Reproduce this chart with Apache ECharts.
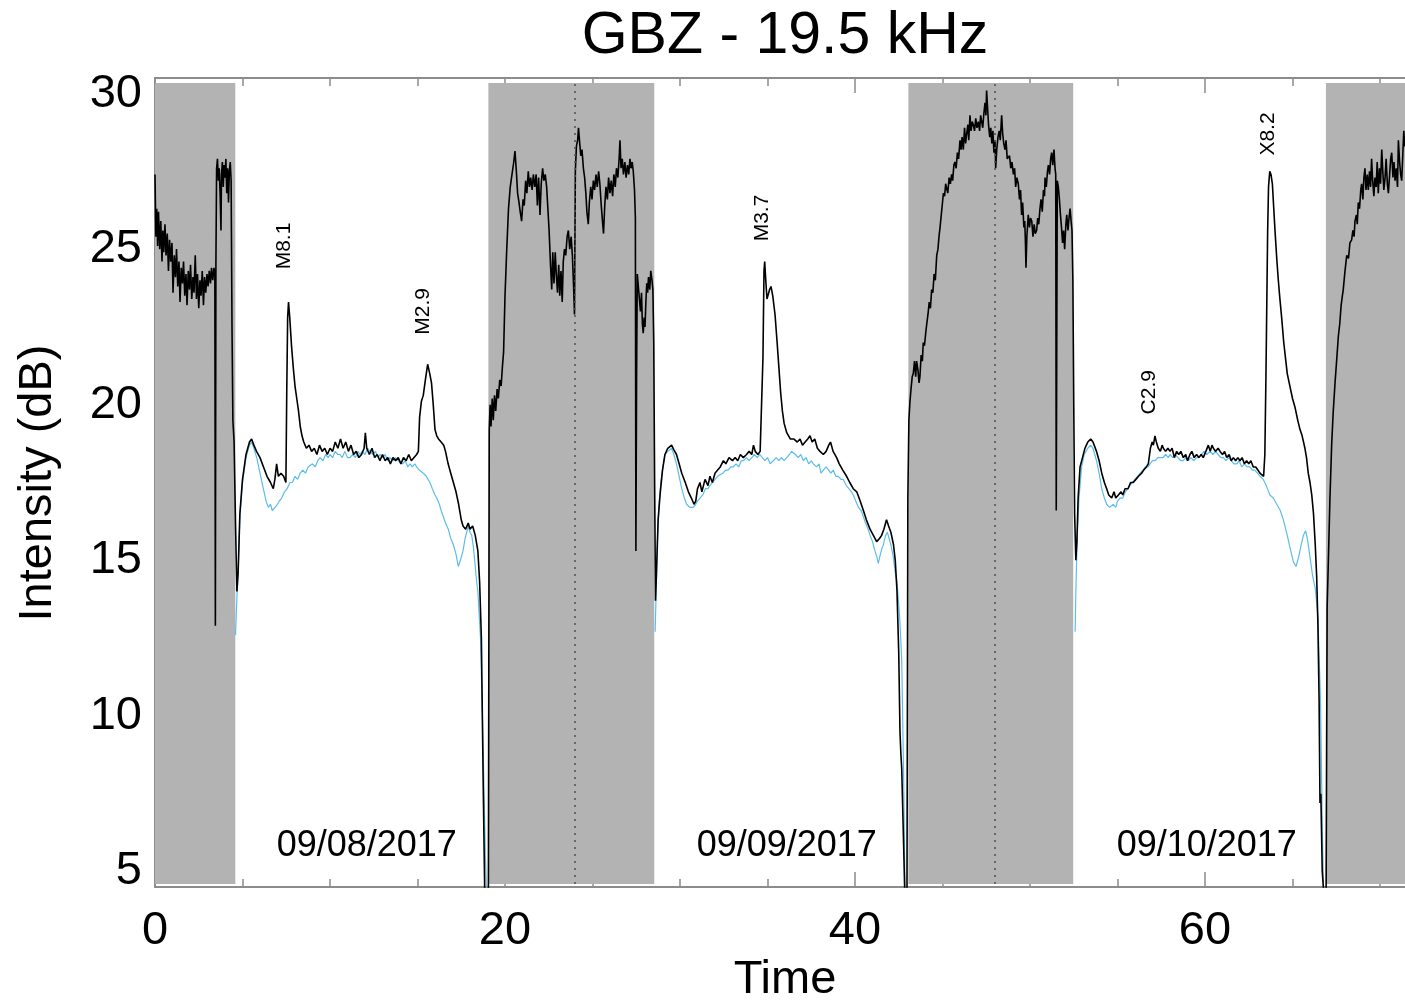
<!DOCTYPE html>
<html>
<head>
<meta charset="utf-8">
<title>GBZ - 19.5 kHz</title>
<script src="https://cdn.jsdelivr.net/npm/echarts@6/dist/echarts.min.js"></script>
<style>
  html, body { margin: 0; padding: 0; background: #ffffff; }
  #chart { width: 1405px; height: 1006px; }
</style>
</head>
<body>
<div id="chart"></div>
<script>
// ---- data (time in hours from 09/08/2017 00:00 UT, intensity in dB) ----

// night-time intervals along the path (shaded)
const nightStart = [0, 19.05, 43.05, 66.91];
const nightEnd   = [4.59, 28.53, 52.47, 76];

// midnight markers
const midnights = [24, 48];

// y-axis labels
const yTickValues = [5, 10, 15, 20, 25, 30];

// day labels
const dayNames = ['09/08/2017', '09/09/2017', '09/10/2017'];
const dayLabelTime = [12.1, 36.1, 60.1];
const dayLabelLevel = 5.8;

// flare classes and where their labels sit
const flareNames = ['M8.1', 'M2.9', 'M3.7', 'C2.9', 'X8.2'];
const flareTime  = [7.4, 15.3, 34.7, 56.8, 63.6];
const flareLevel = [25.1, 23.0, 26.0, 20.4, 28.7];

// measured signal amplitude (black)
const measured = [
  [0,27.4],[0.05,25.4],[0.1,26.3],[0.15,25.1],[0.2,26.2],[0.27,25.0],[0.33,25.9],[0.4,24.6],[0.45,25.6],[0.5,24.9],
  [0.57,25.8],[0.63,24.8],[0.7,25.5],[0.77,24.3],[0.83,25.3],[0.9,24.6],[0.97,25.2],[1.03,23.6],[1.1,24.8],[1.17,24.1],
  [1.23,25.0],[1.3,23.8],[1.37,24.6],[1.43,23.3],[1.5,24.4],[1.57,23.9],[1.63,24.6],[1.7,23.5],[1.77,24.2],[1.83,23.2],
  [1.9,24.3],[1.97,23.7],[2.03,24.5],[2.1,23.4],[2.17,24.1],[2.23,23.6],[2.3,24.8],[2.37,23.4],[2.43,24.2],[2.5,23.1],
  [2.57,24.0],[2.63,23.5],[2.7,24.3],[2.77,23.2],[2.83,24.1],[2.9,23.6],[2.97,24.2],[3.03,23.8],[3.1,24.3],[3.17,23.9],
  [3.23,24.4],[3.3,24.0],[3.37,24.4],[3.42,24.2],[3.45,12.9],[3.48,24.5],[3.52,27.6],[3.57,27.9],[3.62,27.2],[3.67,27.6],
  [3.72,26.8],[3.77,25.6],[3.8,27.4],[3.85,27.8],[3.9,27.0],[3.95,27.7],[4.0,27.3],[4.05,27.9],[4.1,26.8],[4.15,27.6],
  [4.2,26.5],[4.25,27.5],[4.3,27.8],[4.35,27.2],[4.4,22.5],[4.45,19.5],[4.52,18.8],[4.6,16.2],[4.68,14.0],[4.75,14.6],
  [4.85,16.5],[5.0,17.6],[5.2,18.4],[5.4,18.8],[5.52,18.9],[5.65,18.7],[5.8,18.5],[6.0,18.3],[6.2,18.0],[6.4,17.7],
  [6.6,17.5],[6.76,17.3],[6.85,17.6],[6.95,18.1],[7.05,17.7],[7.2,17.8],[7.35,17.7],[7.48,17.5],[7.53,20.5],[7.58,22.8],
  [7.63,23.3],[7.7,22.8],[7.8,21.9],[7.9,21.2],[8.0,20.6],[8.1,20.2],[8.2,19.8],[8.3,19.3],[8.4,19.0],[8.5,18.8],
  [8.65,18.6],[8.8,18.7],[8.95,18.5],[9.1,18.6],[9.25,18.4],[9.4,18.7],[9.55,18.5],[9.7,18.6],[9.85,18.4],[10.0,18.6],
  [10.15,18.5],[10.3,18.8],[10.45,18.6],[10.6,18.9],[10.75,18.6],[10.9,18.8],[11.05,18.5],[11.2,18.7],[11.35,18.4],[11.5,18.5],
  [11.65,18.3],[11.8,18.4],[11.95,18.6],[12.02,19.1],[12.1,18.6],[12.25,18.4],[12.4,18.6],[12.55,18.3],[12.7,18.4],[12.85,18.2],
  [13.0,18.4],[13.15,18.2],[13.3,18.3],[13.45,18.1],[13.6,18.3],[13.75,18.2],[13.9,18.3],[14.05,18.1],[14.2,18.3],[14.35,18.2],
  [14.5,18.4],[14.65,18.2],[14.8,18.3],[14.95,18.4],[15.05,18.5],[15.12,19.6],[15.22,20.1],[15.33,20.3],[15.45,20.8],[15.58,21.3],
  [15.7,21.0],[15.8,20.7],[15.9,20.0],[16.0,19.2],[16.1,19.0],[16.2,18.9],[16.35,18.8],[16.5,18.7],[16.6,18.5],[16.75,18.1],
  [16.9,17.8],[17.05,17.5],[17.2,17.2],[17.35,16.8],[17.5,16.3],[17.6,16.1],[17.75,16.0],[17.9,16.2],[18.0,16.0],[18.15,16.1],
  [18.3,15.8],[18.45,15.3],[18.55,14.3],[18.65,12.5],[18.75,8.0],[18.85,4.0],[19.05,4.0],[19.1,19.2],[19.15,20.0],[19.2,19.3],
  [19.27,20.2],[19.33,19.5],[19.4,20.3],[19.47,19.8],[19.55,20.5],[19.62,20.2],[19.7,20.8],[19.78,20.6],[19.85,21.2],[19.92,21.7],
  [20.0,23.5],[20.1,25.0],[20.2,26.3],[20.3,27.0],[20.4,27.4],[20.5,27.8],[20.57,28.15],[20.65,27.5],[20.72,26.8],[20.8,26.5],
  [20.87,26.2],[20.95,25.9],[21.03,26.6],[21.1,26.4],[21.18,27.2],[21.25,26.8],[21.33,27.5],[21.4,27.0],[21.47,27.3],[21.55,26.9],
  [21.62,27.4],[21.7,27.0],[21.78,27.4],[21.85,26.4],[21.92,27.3],[22.0,26.1],[22.07,27.1],[22.15,27.6],[22.22,27.2],[22.3,27.4],
  [22.38,27.0],[22.45,26.3],[22.52,25.6],[22.6,24.5],[22.67,23.7],[22.73,24.9],[22.8,23.9],[22.87,24.9],[22.93,24.2],[23.0,23.6],
  [23.07,24.5],[23.13,23.5],[23.2,24.3],[23.27,23.3],[23.33,24.6],[23.4,25.0],[23.47,24.8],[23.55,25.4],[23.62,25.6],[23.7,25.0],
  [23.78,25.4],[23.85,24.8],[23.92,23.8],[23.97,22.9],[24.02,27.5],[24.08,28.3],[24.15,28.5],[24.2,28.9],[24.27,28.4],[24.33,28.0],
  [24.4,28.2],[24.48,27.6],[24.55,27.3],[24.62,26.8],[24.68,26.2],[24.76,25.8],[24.82,26.5],[24.9,27.0],[24.97,26.6],[25.05,27.2],
  [25.12,26.9],[25.2,27.4],[25.27,27.0],[25.35,27.5],[25.42,27.1],[25.5,26.4],[25.57,25.9],[25.63,25.5],[25.7,26.4],[25.77,27.0],
  [25.85,26.6],[25.92,27.3],[26.0,26.8],[26.07,27.2],[26.15,26.7],[26.22,27.4],[26.3,27.0],[26.37,27.6],[26.45,27.3],[26.52,27.9],
  [26.57,28.5],[26.63,27.6],[26.7,27.9],[26.77,27.4],[26.85,27.8],[26.92,27.3],[27.0,27.7],[27.07,27.4],[27.14,27.9],[27.2,27.6],
  [27.27,27.8],[27.33,27.5],[27.4,26.9],[27.45,26.0],[27.48,15.3],[27.52,21.0],[27.56,24.2],[27.62,23.8],[27.68,23.4],[27.74,23.0],
  [27.8,23.6],[27.85,22.6],[27.9,22.3],[27.95,22.8],[28.0,22.5],[28.05,23.3],[28.1,23.9],[28.15,23.6],[28.2,24.1],[28.27,23.7],
  [28.33,24.3],[28.4,24.0],[28.45,23.7],[28.5,22.0],[28.55,17.5],[28.6,13.7],[28.65,14.5],[28.75,16.3],[28.86,17.1],[29.0,17.9],
  [29.14,18.4],[29.3,18.6],[29.52,18.7],[29.65,18.55],[29.8,18.4],[29.95,18.1],[30.1,17.8],[30.3,17.5],[30.48,17.2],[30.65,17.0],
  [30.8,16.8],[30.9,16.9],[31.0,17.3],[31.14,17.5],[31.25,17.2],[31.43,17.6],[31.6,17.4],[31.71,17.7],[31.85,17.5],[32.0,17.8],
  [32.15,17.9],[32.3,18.0],[32.48,18.2],[32.62,18.1],[32.8,18.3],[33.0,18.2],[33.15,18.3],[33.3,18.2],[33.45,18.4],[33.62,18.3],
  [33.8,18.4],[33.95,18.5],[34.1,18.4],[34.2,18.7],[34.3,18.5],[34.45,18.4],[34.58,18.5],[34.68,18.5],[34.74,21.5],[34.8,24.3],
  [34.84,24.6],[34.9,24.0],[34.97,23.4],[35.05,23.4],[35.12,23.7],[35.2,23.8],[35.3,23.5],[35.43,22.9],[35.55,22.0],[35.65,21.2],
  [35.75,20.4],[35.85,19.8],[35.95,19.4],[36.1,19.1],[36.3,18.9],[36.5,18.9],[36.7,18.8],[36.86,18.9],[37.0,18.7],[37.15,18.8],
  [37.3,18.9],[37.43,19.0],[37.55,18.8],[37.7,18.9],[37.85,18.6],[38.0,18.5],[38.19,18.4],[38.35,18.5],[38.5,18.7],[38.6,18.8],
  [38.75,18.5],[38.95,18.3],[39.1,18.1],[39.3,17.9],[39.52,17.7],[39.7,17.5],[39.9,17.3],[40.1,17.2],[40.3,16.9],[40.48,16.6],
  [40.65,16.3],[40.86,16.0],[41.05,15.8],[41.24,15.6],[41.4,15.7],[41.52,15.8],[41.65,16.0],[41.8,16.3],[41.92,16.1],[42.05,15.9],
  [42.2,15.5],[42.3,15.0],[42.4,14.0],[42.5,12.0],[42.57,9.5],[42.62,8.8],[42.67,8.3],[42.75,6.5],[42.85,4.2],[42.97,4.2],
  [43.02,17.0],[43.08,19.5],[43.14,20.1],[43.2,20.5],[43.27,20.9],[43.33,21.0],[43.4,21.4],[43.47,20.9],[43.52,21.4],[43.6,21.1],
  [43.66,20.7],[43.71,20.9],[43.78,21.6],[43.85,21.4],[43.9,22.0],[43.97,21.9],[44.04,22.3],[44.1,22.6],[44.17,22.9],[44.24,23.3],
  [44.31,23.1],[44.38,23.7],[44.45,23.6],[44.52,24.2],[44.59,24.0],[44.67,24.8],[44.74,25.0],[44.8,25.4],[44.86,25.7],[44.93,26.1],
  [45.0,26.5],[45.05,26.8],[45.12,26.7],[45.18,27.1],[45.24,27.1],[45.3,26.8],[45.38,27.3],[45.45,27.1],[45.52,27.4],[45.58,27.2],
  [45.65,27.7],[45.71,27.8],[45.78,27.6],[45.85,28.1],[45.92,27.9],[46.0,28.5],[46.06,28.2],[46.12,28.6],[46.19,28.2],[46.26,28.9],
  [46.32,28.4],[46.38,28.7],[46.45,29.0],[46.5,28.5],[46.57,29.3],[46.63,28.8],[46.7,29.1],[46.76,29.0],[46.83,28.8],[46.9,29.2],
  [46.97,28.9],[47.05,29.1],[47.12,28.8],[47.18,29.3],[47.24,29.25],[47.3,28.9],[47.37,29.4],[47.43,29.7],[47.48,29.3],[47.52,30.1],
  [47.58,29.5],[47.63,29.0],[47.7,28.6],[47.76,28.9],[47.82,28.4],[47.88,28.8],[47.94,28.1],[48.0,28.5],[48.04,27.6],[48.1,28.2],
  [48.17,28.6],[48.24,28.8],[48.3,28.5],[48.38,29.3],[48.44,28.7],[48.5,28.4],[48.57,28.2],[48.63,28.5],[48.7,27.9],[48.76,27.9],
  [48.83,28.0],[48.9,27.6],[48.97,27.8],[49.05,27.4],[49.12,27.6],[49.18,27.0],[49.25,27.3],[49.33,27.1],[49.4,26.6],[49.46,26.9],
  [49.52,26.1],[49.58,26.5],[49.65,25.7],[49.7,25.9],[49.74,25.2],[49.77,24.4],[49.82,25.4],[49.9,26.1],[49.97,25.7],[50.03,26.0],
  [50.1,25.9],[50.17,25.4],[50.24,25.8],[50.3,25.5],[50.38,25.6],[50.44,26.0],[50.5,25.8],[50.57,26.3],[50.63,26.6],[50.7,26.2],
  [50.77,26.9],[50.83,26.7],[50.86,27.3],[50.93,27.0],[51.0,27.5],[51.05,27.7],[51.12,27.4],[51.18,27.9],[51.24,28.1],[51.3,27.7],
  [51.37,28.2],[51.43,27.6],[51.47,27.4],[51.5,16.6],[51.53,22.0],[51.56,27.2],[51.62,27.0],[51.68,26.6],[51.74,26.1],[51.8,25.7],
  [51.86,25.2],[51.92,25.6],[51.98,25.0],[52.05,25.8],[52.1,26.1],[52.17,25.6],[52.23,26.0],[52.29,26.3],[52.35,25.9],[52.4,25.6],
  [52.45,24.0],[52.5,20.0],[52.55,16.5],[52.62,15.0],[52.68,15.6],[52.75,17.0],[52.86,18.0],[53.0,18.3],[53.14,18.6],[53.3,18.8],
  [53.47,18.9],[53.6,18.8],[53.8,18.5],[53.95,18.2],[54.1,17.8],[54.25,17.5],[54.38,17.3],[54.5,17.1],[54.67,17.0],[54.8,17.2],
  [54.9,17.0],[55.05,17.1],[55.2,17.2],[55.3,17.1],[55.43,17.3],[55.6,17.3],[55.75,17.5],[55.9,17.5],[56.05,17.6],[56.2,17.7],
  [56.38,17.8],[56.5,17.9],[56.65,18.0],[56.76,18.1],[56.88,18.6],[56.98,18.8],[57.05,18.7],[57.14,19.0],[57.22,18.8],[57.33,18.6],
  [57.45,18.5],[57.55,18.7],[57.62,18.6],[57.75,18.5],[57.88,18.6],[58.0,18.5],[58.12,18.6],[58.25,18.3],[58.38,18.5],[58.5,18.4],
  [58.62,18.5],[58.76,18.3],[58.9,18.4],[59.0,18.2],[59.14,18.4],[59.25,18.5],[59.38,18.3],[59.52,18.4],[59.65,18.3],[59.78,18.4],
  [59.9,18.3],[60.05,18.5],[60.19,18.7],[60.3,18.5],[60.4,18.7],[60.48,18.6],[60.6,18.5],[60.75,18.6],[60.86,18.5],[61.0,18.4],
  [61.12,18.5],[61.24,18.3],[61.38,18.4],[61.5,18.2],[61.62,18.3],[61.75,18.2],[61.88,18.3],[62.0,18.2],[62.12,18.3],[62.25,18.1],
  [62.38,18.2],[62.5,18.1],[62.62,18.2],[62.76,18.0],[62.9,18.0],[63.02,17.9],[63.14,17.8],[63.25,17.8],[63.35,17.7],[63.42,18.4],
  [63.48,20.8],[63.53,23.2],[63.58,25.6],[63.63,27.0],[63.7,27.5],[63.77,27.4],[63.85,27.1],[63.93,26.3],[64.0,25.6],[64.1,24.7],
  [64.19,24.0],[64.28,23.4],[64.38,22.8],[64.5,22.0],[64.6,21.5],[64.7,21.0],[64.85,20.6],[65.0,20.2],[65.15,19.9],[65.3,19.5],
  [65.43,19.2],[65.55,19.0],[65.71,18.6],[65.8,18.3],[65.9,17.8],[66.0,17.5],[66.1,17.1],[66.2,16.5],[66.3,15.5],[66.38,14.5],
  [66.45,13.0],[66.52,10.5],[66.57,7.2],[66.62,7.5],[66.7,5.0],[66.8,4.2],[66.92,4.2],[66.98,13.5],[67.05,15.0],[67.14,17.0],
  [67.24,18.75],[67.33,19.8],[67.43,20.7],[67.52,21.4],[67.62,22.2],[67.7,22.6],[67.78,23.2],[67.85,23.5],[67.9,23.7],[68.0,24.3],
  [68.1,24.8],[68.2,24.7],[68.28,25.2],[68.38,25.3],[68.45,25.6],[68.52,25.4],[68.57,25.9],[68.65,26.1],[68.7,25.8],[68.76,26.5],
  [68.83,26.3],[68.9,26.9],[68.95,27.1],[69.02,26.6],[69.08,27.3],[69.14,27.6],[69.2,26.9],[69.27,27.4],[69.33,26.9],[69.4,27.5],
  [69.46,27.0],[69.52,27.9],[69.58,27.2],[69.65,26.7],[69.71,27.3],[69.78,27.0],[69.84,27.8],[69.9,26.8],[69.97,27.6],[70.03,27.1],
  [70.1,28.2],[70.16,27.5],[70.22,26.9],[70.29,27.3],[70.35,27.9],[70.42,27.1],[70.48,26.8],[70.55,27.4],[70.61,27.9],[70.67,28.1],
  [70.74,27.3],[70.8,27.8],[70.86,27.2],[70.93,27.6],[71.0,27.0],[71.05,28.5],[71.12,27.8],[71.18,27.4],[71.24,27.2],[71.3,28.0],
  [71.36,28.8],[71.42,28.3],[71.5,28.6]
];

// quiet-day reference curve (blue), daytime only
const quietDay1 = [
  [4.6,12.6],[4.68,13.8],[4.75,14.6],[4.85,16.4],[5.0,17.5],[5.2,18.3],[5.4,18.7],[5.52,18.8],[5.65,18.6],[5.81,18.3],
  [6.0,17.8],[6.19,17.3],[6.35,16.9],[6.48,16.7],[6.6,16.8],[6.7,16.6],[6.86,16.7],[7.0,16.8],[7.1,16.9],[7.24,17.0],
  [7.4,17.2],[7.55,17.3],[7.71,17.5],[7.85,17.5],[8.0,17.7],[8.15,17.6],[8.29,17.8],[8.45,17.9],[8.6,17.8],[8.75,18.0],
  [8.86,18.0],[9.0,18.1],[9.15,18.0],[9.3,18.2],[9.43,18.3],[9.6,18.2],[9.75,18.4],[9.9,18.3],[10.0,18.4],[10.15,18.3],
  [10.3,18.5],[10.45,18.4],[10.57,18.4],[10.7,18.3],[10.85,18.5],[11.0,18.3],[11.14,18.3],[11.3,18.4],[11.45,18.3],[11.6,18.5],
  [11.71,18.4],[11.85,18.5],[12.0,18.4],[12.15,18.6],[12.29,18.5],[12.45,18.4],[12.6,18.5],[12.75,18.3],[12.86,18.4],[13.0,18.3],
  [13.15,18.4],[13.3,18.2],[13.43,18.3],[13.6,18.2],[13.75,18.3],[13.9,18.2],[14.0,18.2],[14.15,18.1],[14.3,18.2],[14.45,18.0],
  [14.57,18.1],[14.7,18.0],[14.85,18.1],[14.95,18.0],[15.1,17.9],[15.2,17.9],[15.33,17.8],[15.5,17.7],[15.6,17.6],[15.71,17.5],
  [15.85,17.3],[16.0,17.1],[16.1,17.0],[16.25,16.8],[16.35,16.6],[16.48,16.4],[16.6,16.2],[16.76,16.0],[16.9,15.7],[17.05,15.5],
  [17.2,15.2],[17.33,14.8],[17.45,15.0],[17.6,15.3],[17.72,15.7],[17.81,15.9],[17.9,16.1],[18.0,15.9],[18.1,15.8],[18.2,15.4],
  [18.3,14.8],[18.38,14.3],[18.45,14.0],[18.6,12.5],[18.75,9.0],[18.88,5.5],[18.95,4.2]
];
const quietDay2 = [
  [28.58,12.7],[28.62,13.6],[28.7,15.5],[28.8,16.8],[28.9,17.5],[29.0,17.9],[29.14,18.4],[29.3,18.5],[29.52,18.6],[29.65,18.4],
  [29.8,18.1],[29.95,17.7],[30.1,17.3],[30.25,17.0],[30.38,16.8],[30.55,16.7],[30.76,16.7],[30.9,16.8],[31.0,16.9],[31.14,17.0],
  [31.3,17.1],[31.45,17.3],[31.6,17.3],[31.71,17.4],[31.85,17.5],[32.0,17.6],[32.15,17.7],[32.29,17.75],[32.45,17.8],[32.6,17.9],
  [32.75,17.9],[32.9,18.0],[33.05,18.0],[33.2,18.1],[33.35,18.0],[33.5,18.2],[33.62,18.2],[33.8,18.3],[33.95,18.2],[34.1,18.3],
  [34.25,18.4],[34.4,18.3],[34.57,18.4],[34.7,18.3],[34.85,18.2],[35.0,18.3],[35.15,18.1],[35.33,18.2],[35.5,18.3],[35.65,18.2],
  [35.8,18.3],[35.95,18.2],[36.1,18.3],[36.25,18.4],[36.38,18.5],[36.48,18.5],[36.6,18.4],[36.75,18.3],[36.9,18.4],[37.05,18.2],
  [37.2,18.3],[37.35,18.1],[37.5,18.2],[37.62,18.1],[37.8,18.0],[37.95,18.1],[38.05,17.8],[38.19,17.9],[38.35,18.0],[38.5,17.9],
  [38.62,17.8],[38.76,17.9],[38.9,17.7],[39.05,17.7],[39.2,17.6],[39.33,17.6],[39.5,17.4],[39.65,17.3],[39.8,17.2],[39.9,17.1],
  [40.05,16.9],[40.2,16.7],[40.35,16.6],[40.48,16.4],[40.6,16.2],[40.75,16.0],[40.86,15.8],[41.0,15.6],[41.14,15.3],[41.25,15.1],
  [41.33,14.9],[41.45,15.2],[41.55,15.4],[41.62,15.5],[41.75,15.8],[41.85,15.9],[41.95,15.7],[42.05,15.5],[42.19,15.1],[42.3,14.6],
  [42.4,14.3],[42.55,13.2],[42.67,11.8],[42.78,8.0],[42.86,4.2]
];
const quietDay3 = [
  [52.58,12.7],[52.62,14.0],[52.7,15.8],[52.8,17.0],[52.95,18.0],[53.1,18.4],[53.3,18.6],[53.47,18.7],[53.6,18.6],[53.8,18.2],
  [53.95,17.8],[54.1,17.3],[54.25,17.0],[54.38,16.8],[54.55,16.7],[54.76,16.8],[54.9,16.7],[55.0,16.9],[55.14,17.0],[55.3,17.0],
  [55.45,17.2],[55.6,17.3],[55.71,17.4],[55.85,17.5],[56.0,17.6],[56.15,17.7],[56.29,17.8],[56.45,17.9],[56.6,18.0],[56.75,18.0],
  [56.86,18.1],[57.0,18.2],[57.15,18.2],[57.3,18.3],[57.43,18.3],[57.6,18.3],[57.75,18.4],[57.9,18.3],[58.0,18.4],[58.15,18.3],
  [58.3,18.4],[58.45,18.3],[58.6,18.2],[58.76,18.2],[58.9,18.3],[59.05,18.2],[59.2,18.3],[59.35,18.2],[59.52,18.3],[59.65,18.3],
  [59.8,18.4],[59.95,18.5],[60.1,18.4],[60.29,18.5],[60.45,18.4],[60.6,18.5],[60.75,18.4],[60.9,18.3],[61.05,18.3],[61.2,18.2],
  [61.35,18.3],[61.5,18.2],[61.65,18.1],[61.81,18.1],[61.95,18.2],[62.1,18.0],[62.25,18.1],[62.4,18.0],[62.57,18.0],[62.7,17.9],
  [62.85,17.9],[63.0,17.8],[63.15,17.7],[63.33,17.6],[63.5,17.4],[63.71,17.1],[63.9,17.0],[64.1,16.8],[64.3,16.6],[64.48,16.3],
  [64.7,15.8],[64.9,15.3],[65.05,14.95],[65.2,14.8],[65.35,15.1],[65.5,15.5],[65.62,15.8],[65.75,15.95],[65.85,15.7],[66.0,15.1],
  [66.15,14.5],[66.3,14.1],[66.45,13.2],[66.6,10.5],[66.7,6.5],[66.78,4.2]
];

// ---- build chart ----
const FONT = '"Liberation Sans", Arial, Helvetica, sans-serif';
const AXIS_GREY = '#8c8c8c';

const yMin = 4.5, yMax = 30.5;
const shadeBottom = 4.6, shadeTop = 30.34;

// a break item between the daytime pieces of the reference curve
const quiet = quietDay1.concat([[19.5, '-']], quietDay2, [[43.5, '-']], quietDay3);

const nightAreas = nightStart.map((s, i) => [
  { xAxis: s, yAxis: shadeBottom },
  { xAxis: nightEnd[i], yAxis: shadeTop }
]);
const midnightLines = midnights.map(t => [
  { coord: [t, shadeBottom] },
  { coord: [t, shadeTop] }
]);

// text placed at data coordinates
function textSeries(name, items, fontSize, rotation) {
  return {
    type: 'custom',
    name: name,
    z: 6,
    silent: true,
    clip: false,
    data: items,
    renderItem: function (params, api) {
      const p = api.coord([api.value(0), api.value(1)]);
      return {
        type: 'text',
        x: p[0],
        y: p[1],
        rotation: rotation,
        style: {
          text: items[params.dataIndex][2],
          fill: '#000000',
          font: fontSize + 'px ' + FONT,
          align: 'center',
          verticalAlign: 'middle'
        }
      };
    }
  };
}

const xAxisCommon = {
  type: 'value',
  min: 0,
  max: 80,
  interval: 20,
  axisLine: { show: true, onZero: false, lineStyle: { color: AXIS_GREY, width: 2 } },
  axisTick: { show: true, inside: true, length: 15, lineStyle: { color: AXIS_GREY, width: 1.5 } },
  minorTick: { show: true, splitNumber: 4, length: 8, lineStyle: { color: AXIS_GREY, width: 1.5 } },
  splitLine: { show: false },
  minorSplitLine: { show: false }
};

const chart = echarts.init(document.getElementById('chart'), null, { renderer: 'canvas' });

chart.setOption({
  animation: false,
  backgroundColor: '#ffffff',
  grid: { left: 155, top: 78, width: 1400, height: 809, containLabel: false, outerBoundsMode: 'none' },
  xAxis: [
    Object.assign({}, xAxisCommon, {
      position: 'bottom',
      axisLabel: { show: true, color: '#000', fontSize: 47, fontFamily: FONT, margin: 21 }
    }),
    Object.assign({}, xAxisCommon, {
      position: 'top',
      axisLabel: { show: false }
    })
  ],
  yAxis: {
    type: 'value',
    min: yMin,
    max: yMax,
    axisLine: { show: true, lineStyle: { color: AXIS_GREY, width: 2 } },
    axisTick: { show: false },
    splitLine: { show: false },
    axisLabel: {
      show: true,
      customValues: yTickValues,
      color: '#000',
      fontSize: 47,
      fontFamily: FONT,
      margin: 13
    }
  },
  graphic: [
    {
      type: 'text',
      x: 785, y: 37,
      style: { text: 'GBZ - 19.5 kHz', fill: '#000', font: '59px ' + FONT, align: 'center', verticalAlign: 'middle' }
    },
    {
      type: 'text',
      x: 785, y: 980,
      style: { text: 'Time', fill: '#000', font: '47px ' + FONT, align: 'center', verticalAlign: 'middle' }
    },
    {
      type: 'text',
      x: 38, y: 483,
      rotation: Math.PI / 2,
      style: { text: 'Intensity (dB)', fill: '#000', font: '47px ' + FONT, align: 'center', verticalAlign: 'middle' }
    }
  ],
  series: [
    {
      // night shading and midnight markers
      type: 'line',
      name: 'night',
      data: [],
      z: 1,
      silent: true,
      markArea: {
        silent: true,
        itemStyle: { color: '#b3b3b3', opacity: 1 },
        data: nightAreas
      },
      markLine: {
        silent: true,
        symbol: ['none', 'none'],
        label: { show: false },
        lineStyle: { color: '#555555', type: [2, 5], width: 1.6 },
        data: midnightLines
      }
    },
    {
      type: 'line',
      name: 'quiet',
      data: quiet,
      z: 3,
      showSymbol: false,
      connectNulls: false,
      clip: true,
      silent: true,
      lineStyle: { color: '#5cbdea', width: 1.2 }
    },
    {
      type: 'line',
      name: 'measured',
      data: measured,
      z: 4,
      showSymbol: false,
      clip: true,
      silent: true,
      lineStyle: { color: '#000000', width: 1.6 }
    },
    textSeries('flares', flareNames.map((n, i) => [flareTime[i], flareLevel[i], n]), 21, Math.PI / 2),
    textSeries('days', dayNames.map((n, i) => [dayLabelTime[i], dayLabelLevel, n]), 36, 0)
  ]
});
</script>
</body>
</html>
